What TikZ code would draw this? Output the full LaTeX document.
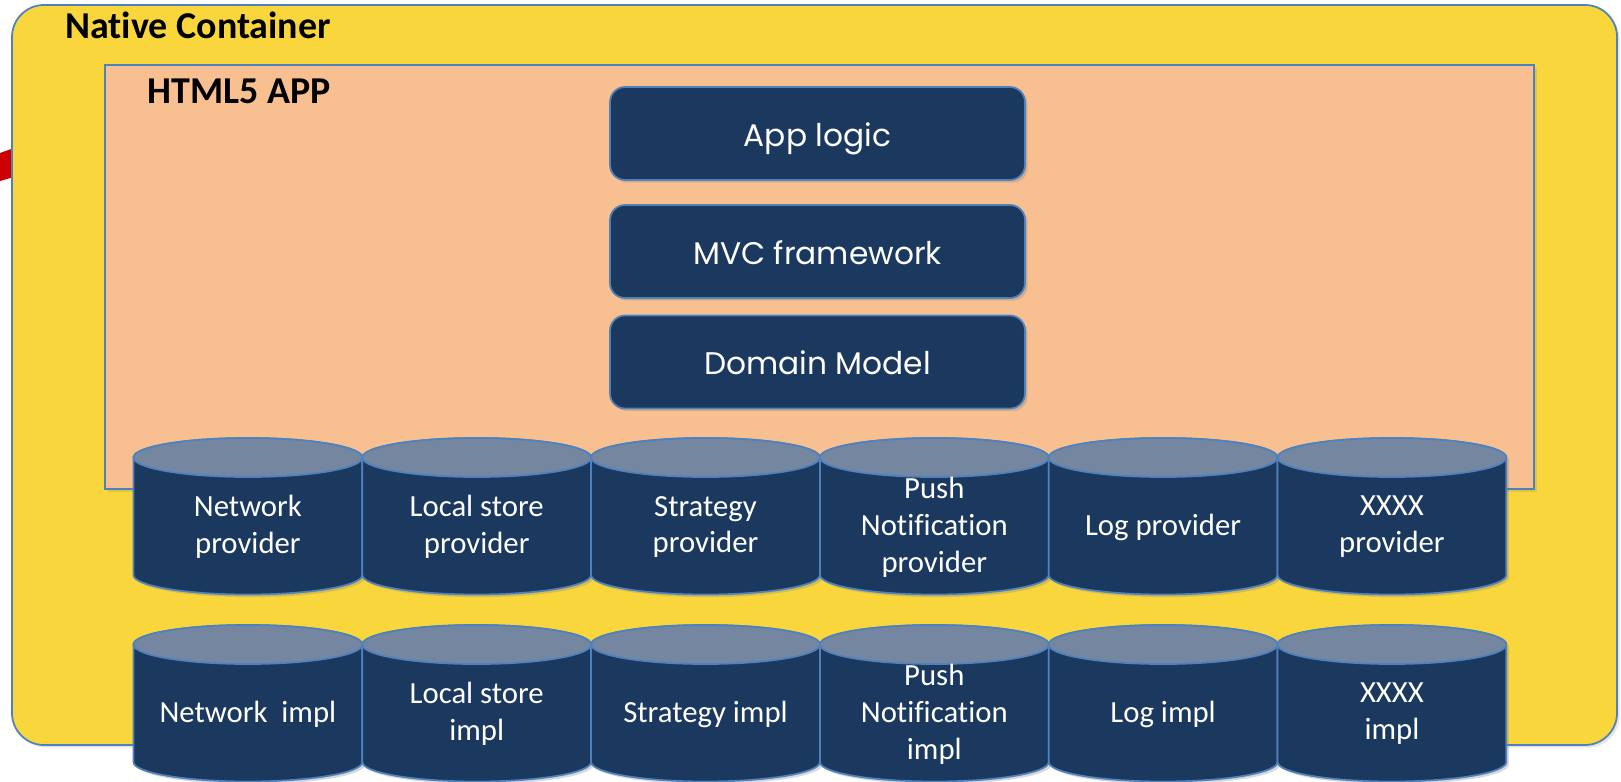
\documentclass[tikz,border=0pt]{standalone}
\usepackage{fontspec}
\setmainfont{Carlito}[Ligatures=CommonOff]
\newfontfamily\gothic{Poppins}
\usetikzlibrary{shadows}
\definecolor{contyellow}{RGB}{249,214,59}
\definecolor{apppeach}{RGB}{248,192,144}
\definecolor{layernavy}{RGB}{27,56,94}
\definecolor{cyltop}{RGB}{117,135,160}
\definecolor{edgeblue}{RGB}{79,129,189}
\definecolor{cutred}{RGB}{204,0,0}
% one storage cylinder: name, left x, lid centre y, label
\newcommand{\dbcyl}[4]{%
  \draw[cylside] (#2,#3) -- (#2,#3-117.5)
    arc[start angle=180, end angle=360, x radius=114.4, y radius=19.5]
    -- (#2+228.8,#3)
    arc[start angle=0, end angle=180, x radius=114.4, y radius=19.5] -- cycle;
  \draw[cyllid] (#2+114.4,#3) ellipse[x radius=114.4, y radius=19.5];
  \node[cyltext] (#1) at (#2+114.4,#3-69.5) {#4};}

\begin{document}
\begin{tikzpicture}[x=0.02cm, y=0.02cm,
  native/.style={draw=edgeblue, line width=1pt, fill=contyellow,
                 rounded corners=0.64cm,
                 drop shadow={opacity=0.2, shadow xshift=1.5pt, shadow yshift=-1.5pt}},
  html/.style={draw=edgeblue, line width=1pt, fill=apppeach,
               drop shadow={opacity=0.2, shadow xshift=1.5pt, shadow yshift=-1.5pt}},
  title/.style={font=\bfseries\fontsize{21.6}{26}\selectfont, anchor=base west,
                inner sep=0pt},
  layer/.style={draw=edgeblue, line width=1pt, fill=layernavy, text=white,
                rounded corners=0.3cm, minimum width=8.3cm, minimum height=1.86cm,
                text height=14.7pt, text depth=0pt,
                font=\gothic\fontsize{17.8}{21}\selectfont,
                drop shadow={opacity=0.3, shadow xshift=1.5pt, shadow yshift=-1.5pt}},
  cylside/.style={draw=edgeblue, line width=1pt, fill=layernavy,
                  drop shadow={opacity=0.3, shadow xshift=1.5pt, shadow yshift=-1.5pt}},
  cyllid/.style={draw=edgeblue, line width=1pt, fill=cyltop},
  cyltext/.style={text=white, align=center, inner sep=0pt,
                  font=\fontsize{17.5}{21}\selectfont}]
\useasboundingbox (0,0) rectangle (1621,-781);
\fill[white] (0,0) rectangle (1621,-781);
\fill[cutred] (0,-153) -- (14,-148) -- (14,-177) -- (0,-181) -- cycle;
% containers
\draw[native] (12,-5) rectangle (1617,-745);
\node[title] (nc) at (65,-38) {Native Container};
\draw[html] (105,-65) rectangle (1534,-489);
\node[title] (app) at (147,-103) {HTML5 APP};
% app layers
\node[layer] (logic)  at (817.5,-133.5) {App logic};
\node[layer] (mvc)    at (817.5,-251.5) {MVC framework};
\node[layer] (domain) at (817.5,-362)   {Domain Model};
% providers
\dbcyl{netp}{133.5}{-457.5}{Network\\provider}
\dbcyl{locp}{362.3}{-457.5}{Local store\\provider}
\dbcyl{strp}{591.1}{-457.5}{Strategy\\provider}
\dbcyl{pshp}{819.9}{-457.5}{Push\\Notification\\provider}
\dbcyl{logp}{1048.7}{-457.5}{Log provider}
\dbcyl{xxxp}{1277.5}{-457.5}{XXXX\\provider}
% implementations
\dbcyl{neti}{133.5}{-644.5}{Network\ \ impl}
\dbcyl{loci}{362.3}{-644.5}{Local store\\impl}
\dbcyl{stri}{591.1}{-644.5}{Strategy impl}
\dbcyl{pshi}{819.9}{-644.5}{Push\\Notification\\impl}
\dbcyl{logi}{1048.7}{-644.5}{Log impl}
\dbcyl{xxxi}{1277.5}{-644.5}{XXXX\\impl}
\end{tikzpicture}
\end{document}
